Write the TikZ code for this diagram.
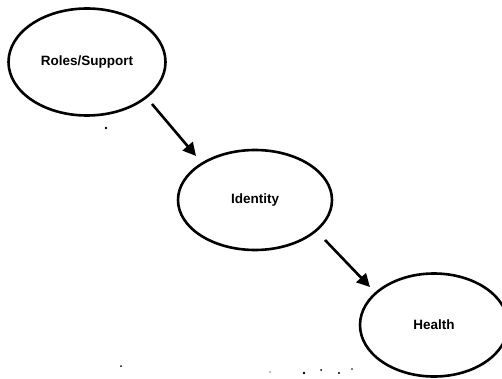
\documentclass[tikz,border=0pt]{standalone}
\usepackage{fontspec}
\setmainfont{Liberation Sans}
\usetikzlibrary{shapes.geometric,arrows.meta}
\begin{document}
\begin{tikzpicture}[x=1pt,y=-1pt,
  oval/.style={draw,ellipse,line width=2.6pt,inner sep=0pt,
    font=\bfseries\fontsize{13.5}{15}\selectfont},
  link/.style={line width=2.6pt,-{Triangle[length=13pt,width=13pt]}},
  speck/.style={fill=black}]
  \useasboundingbox (0,0) rectangle (502,379);

  % the three constructs
  \node[oval,minimum width=157pt,minimum height=107pt] (roles) at (87,62) {Roles/Support};
  \node[oval,minimum width=154pt,minimum height=100pt] (identity) at (255,200) {Identity};
  \node[oval,minimum width=148pt,minimum height=103pt] (health) at (434,325) {Health};

  % arrow end points, clear of the outlines
  \coordinate (s1) at (152,104);
  \coordinate (e1) at (196,156);
  \coordinate (s2) at (325,240);
  \coordinate (e2) at (370,287);
  \draw[link] (s1) -- (e1);
  \draw[link] (s2) -- (e2);

  % stray specks
  \coordinate (d1) at (106,128);
  \coordinate (d2) at (121,366);
  \coordinate (d3) at (270,372);
  \coordinate (d4) at (304,373);
  \coordinate (d5) at (321,370);
  \coordinate (d6) at (339,373);
  \coordinate (d7) at (352,369);
  \fill[speck] (d1) circle (1.3);
  \fill[speck] (d2) circle (1);
  \fill[speck] (d3) circle (0.6);
  \fill[speck] (d4) circle (1.4);
  \fill[speck] (d5) circle (1);
  \fill[speck] (d6) circle (1.2);
  \fill[speck] (d7) circle (0.8);
\end{tikzpicture}
\end{document}
